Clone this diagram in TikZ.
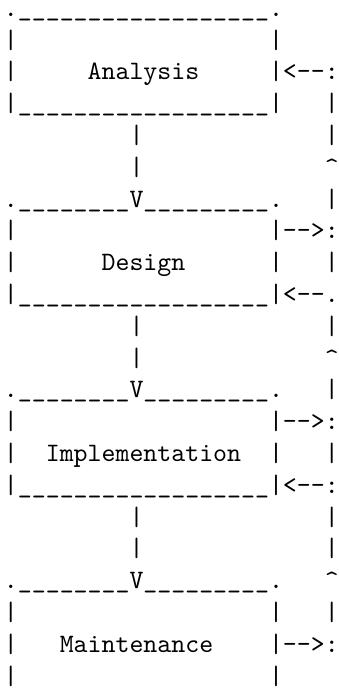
\documentclass[tikz,border=0pt]{standalone}
\usepackage{fontspec}
\setmonofont{lmmono10-regular.otf}
\newcommand\uscores[1]{\foreach \n in {1,...,#1}{\_}}
\newcommand\blanks[1]{\foreach \n in {1,...,#1}{~}}
\tikzset{asciirow/.style={anchor=base west, inner sep=0pt, outer sep=0pt,
  font=\fontsize{26.57}{31.8}\selectfont\ttfamily\frenchspacing}}
\begin{document}
\begin{tikzpicture}[x=1pt,y=1pt]
\useasboundingbox (0,0) rectangle (338,688);
% Analysis
\node[asciirow] (row1)  at (4,671.6) {.\uscores{18}.};
\node[asciirow] (row2)  at (4,639.8) {|\blanks{18}|};
\node[asciirow] (row3)  at (4,608.0) {|\blanks{5}Analysis\blanks{5}|<-{}-:};
\node[asciirow] (row4)  at (4,576.2) {|\uscores{18}|\blanks{3}|};
\node[asciirow] (row5)  at (4,544.4) {\blanks{9}|\blanks{13}|};
\node[asciirow] (row6)  at (4,512.6) {\blanks{9}|\blanks{13}\textasciicircum};
% Design
\node[asciirow] (row7)  at (4,480.8) {.\uscores{8}V\uscores{9}.\blanks{3}|};
\node[asciirow] (row8)  at (4,449.0) {|\blanks{18}|-{}->:};
\node[asciirow] (row9)  at (4,417.2) {|\blanks{6}Design\blanks{6}|\blanks{3}|};
\node[asciirow] (row10) at (4,385.4) {|\uscores{18}|<-{}-.};
\node[asciirow] (row11) at (4,353.6) {\blanks{9}|\blanks{13}|};
\node[asciirow] (row12) at (4,321.8) {\blanks{9}|\blanks{13}\textasciicircum};
% Implementation
\node[asciirow] (row13) at (4,290.0) {.\uscores{8}V\uscores{9}.\blanks{3}|};
\node[asciirow] (row14) at (4,258.2) {|\blanks{18}|-{}->:};
\node[asciirow] (row15) at (4,226.4) {|\blanks{2}Implementation\blanks{2}|\blanks{3}|};
\node[asciirow] (row16) at (4,194.6) {|\uscores{18}|<-{}-:};
\node[asciirow] (row17) at (4,162.8) {\blanks{9}|\blanks{13}|};
\node[asciirow] (row18) at (4,131.0) {\blanks{9}|\blanks{13}|};
% Maintenance
\node[asciirow] (row19) at (4,99.2)  {.\uscores{8}V\uscores{9}.\blanks{3}\textasciicircum};
\node[asciirow] (row20) at (4,67.4)  {|\blanks{18}|\blanks{3}|};
\node[asciirow] (row21) at (4,35.6)  {|\blanks{3}Maintenance\blanks{4}|-{}->:};
\node[asciirow] (row22) at (4,3.8)   {|\blanks{18}|};
\end{tikzpicture}
\end{document}
